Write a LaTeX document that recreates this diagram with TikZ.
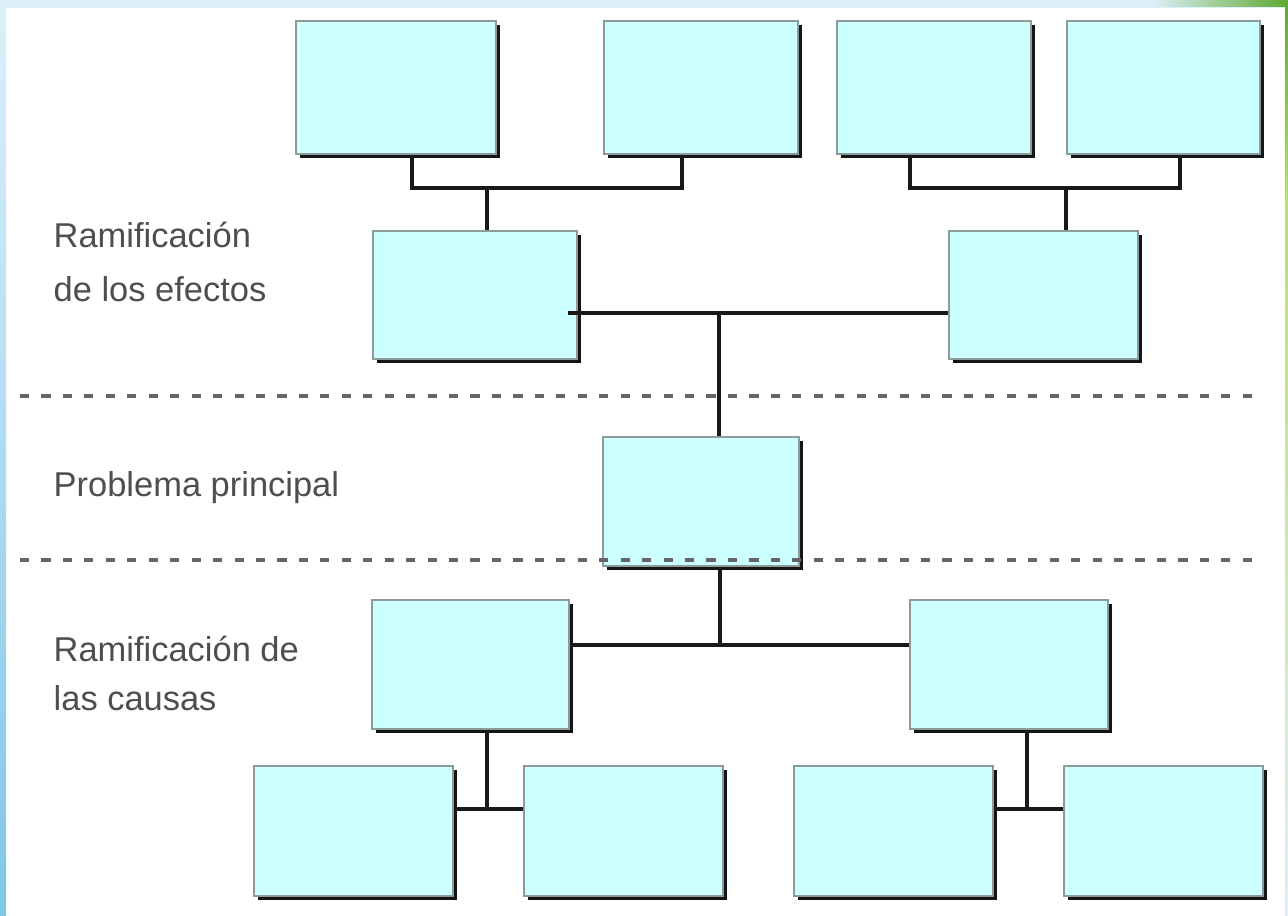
\documentclass[tikz,border=0pt]{standalone}
\usepackage{fontspec}
\setmainfont{Liberation Sans}
\usetikzlibrary{shadows}
\definecolor{boxfill}{HTML}{CCFFFF}
\definecolor{boxline}{HTML}{8C9A9A}
\definecolor{shadowc}{HTML}{151515}
\definecolor{txt}{HTML}{4E4E4E}
\definecolor{dashc}{HTML}{666666}
\definecolor{edgeblue}{HTML}{DDF0FA}
\definecolor{edgeblue2}{HTML}{7FC6E8}
\definecolor{leafg}{HTML}{5FA830}
\definecolor{leafl}{HTML}{B8E070}
\tikzset{
  box/.style 2 args={draw=boxline, fill=boxfill, line width=0.6pt, inner sep=0pt,
    anchor=north west, minimum width=#1, minimum height=#2,
    general shadow={fill=shadowc, shadow xshift=1.15pt, shadow yshift=-1.15pt}},
  conn/.style={draw=black!90, line width=1.15pt},
  sep/.style={draw=dashc, line width=0.9pt, dash pattern=on 2.6pt off 3.5pt},
  lbl/.style={anchor=base west, inner sep=0pt, text=txt, font=\fontsize{9.8}{12}\selectfont}
}
\begin{document}
\begin{tikzpicture}[x=0.01cm, y=-0.01cm]
\useasboundingbox (0,0) rectangle (1288,916);
% background and frame
\fill[white] (0,0) rectangle (1288,916);
\shade[top color=edgeblue, bottom color=edgeblue2] (0,0) rectangle (6,916);
\fill[edgeblue] (0,0) rectangle (1288,8);
\shade[left color=edgeblue, right color=leafg] (1150,0) rectangle (1288,7);
\shade[top color=leafg, bottom color=leafl] (1285,0) rectangle (1288,200);
\shade[top color=leafl, bottom color=edgeblue] (1285,200) rectangle (1288,916);

% top row (effects, level 2)
\node[box={2.00cm}{1.33cm}] (T1) at (295,20) {};
\node[box={1.94cm}{1.33cm}] (T2) at (603,20) {};
\node[box={1.94cm}{1.33cm}] (T3) at (836,20) {};
\node[box={1.93cm}{1.33cm}] (T4) at (1066,20) {};
% effects level 1
\node[box={2.04cm}{1.28cm}] (M1) at (372,230) {};
\node[box={1.89cm}{1.28cm}] (M2) at (948,230) {};
% main problem
\node[box={1.96cm}{1.29cm}] (P) at (602,436) {};
% causes level 1
\node[box={1.97cm}{1.29cm}] (C1) at (371,599) {};
\node[box={1.98cm}{1.29cm}] (C2) at (909,599) {};
% causes level 2
\node[box={1.99cm}{1.30cm}] (B1) at (253,765) {};
\node[box={1.99cm}{1.30cm}] (B2) at (523,765) {};
\node[box={1.99cm}{1.30cm}] (B3) at (793,765) {};
\node[box={1.99cm}{1.30cm}] (B4) at (1063,765) {};

% separators
\draw[sep] (20,396) -- (1255,396);
\draw[sep] (20,560) -- (1255,560);

% junction coordinates
\coordinate (j1) at (412,188);
\coordinate (j2) at (682,188);
\coordinate (j3) at (487,188);
\coordinate (j4) at (910,188);
\coordinate (j5) at (1180,188);
\coordinate (j6) at (1066,188);
\coordinate (j7) at (719,313);
\coordinate (j8) at (720,645);
\coordinate (j9) at (487,809);
\coordinate (j10) at (1027,809);

% connectors
\draw[conn] (T1.south -| j1) -- (j1) -- (j2) -- (T2.south -| j2);
\draw[conn] (j3) -- (M1.north -| j3);
\draw[conn] (T3.south -| j4) -- (j4) -- (j5) -- (T4.south -| j5);
\draw[conn] (j6) -- (M2.north -| j6);
\draw[conn] ([xshift=-0.1cm]M1.east |- j7) -- (M2.west |- j7);
\draw[conn] (j7) -- (P.north -| j7);
\draw[conn] (P.south -| j8) -- (j8);
\draw[conn] (C1.east |- j8) -- (C2.west |- j8);
\draw[conn] (C1.south -| j9) -- (j9);
\draw[conn] (B1.east |- j9) -- (B2.west |- j9);
\draw[conn] (C2.south -| j10) -- (j10);
\draw[conn] (B3.east |- j10) -- (B4.west |- j10);

% labels
\node[lbl] (le1) at (53,248) {Ramificación};
\node[lbl] (le2) at (53,302) {de los efectos};
\node[lbl] (lp) at (53,497) {Problema principal};
\node[lbl] (lc1) at (53,662) {Ramificación de};
\node[lbl] (lc2) at (53,710) {las causas};
\end{tikzpicture}
\end{document}
